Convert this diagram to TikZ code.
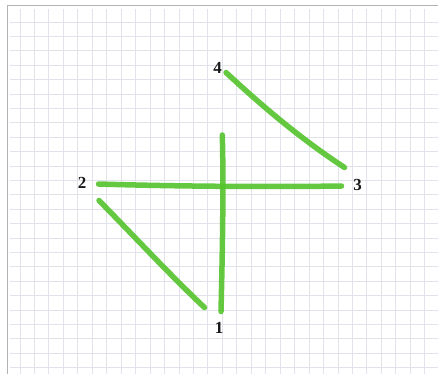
\documentclass[tikz,border=0pt]{standalone}
\usepackage{fontspec}
\setmainfont{Liberation Serif}
\definecolor{gridc}{RGB}{226,226,234}
\definecolor{framec}{RGB}{178,178,182}
\definecolor{penc}{RGB}{84,196,44}
\tikzset{
  gridline/.style={draw=gridc, line width=0.9bp},
  frameline/.style={draw=framec, line width=1.8bp},
  pen/.style={draw=penc, line width=5.5bp, line cap=round, opacity=0.9},
  lbl/.style={inner sep=0pt, font=\fontsize{17}{17}\selectfont\bfseries, text=black!90}
}
\begin{document}
\begin{tikzpicture}[x=1bp,y=-1bp]
\useasboundingbox (0,0) rectangle (438,374);
\fill[white] (0,0) rectangle (438,374);
% grid
\foreach \k in {0,...,28} {
  \draw[gridline] ({20+14.454*\k},9) -- ({20+14.454*\k},374);
}
\foreach \k in {0,...,24} {
  \draw[gridline] (10,{22+14.4*\k}) -- (438,{22+14.4*\k});
}
% frame
\draw[frameline] (7.4,374) -- (7.4,5.4) -- (438,5.4);
% label nodes
\node[lbl] (n1) at (219,328) {1};
\node[lbl] (n2) at (82,183.2) {2};
\node[lbl] (n3) at (357.5,184.7) {3};
\node[lbl] (n4) at (217.5,68) {4};
% stroke end points
\coordinate (vt) at (222.3,135);
\coordinate (vb) at (221,311.5);
\coordinate (hl) at (98.5,184);
\coordinate (hr) at (341.5,186);
\coordinate (dl) at (99,200.5);
\coordinate (db) at (204.5,307.5);
\coordinate (ut) at (226,72.5);
\coordinate (ur) at (344.5,167.5);
% strokes
\draw[pen] (vt) .. controls (223.8,190) and (222.2,260) .. (vb);
\draw[pen] (hl) .. controls (180,186.5) and (270,187) .. (hr);
\draw[pen] (dl) .. controls (134,236) and (170,275) .. (db);
\draw[pen] (ut) .. controls (260,104) and (298,137) .. (ur);
\end{tikzpicture}
\end{document}
